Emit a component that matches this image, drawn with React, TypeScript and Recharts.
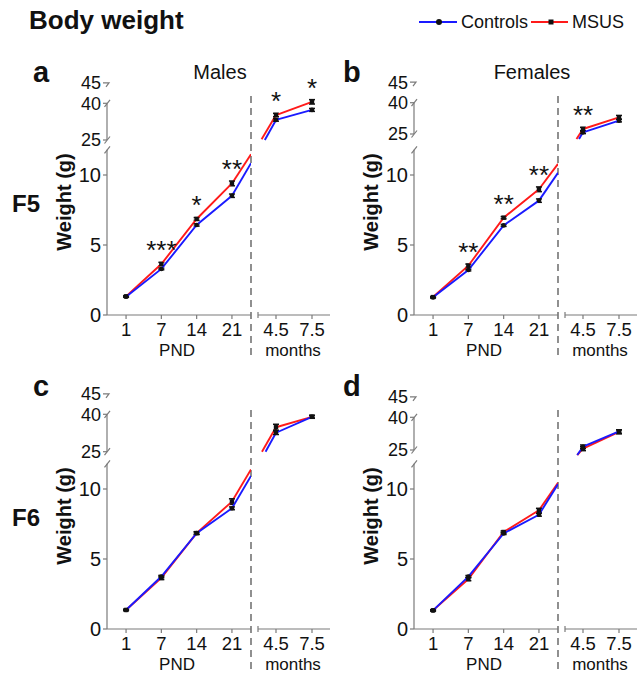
import React from "react";
import {
  LineChart,
  Line,
  XAxis,
  YAxis,
  ErrorBar,
  LabelList,
  ReferenceLine,
} from "recharts";

// ---- shared categories / ticks ----
const PND_DAYS = ["1", "7", "14", "21"];
const MONTH_LABELS = ["4.5", "7.5"];
const LOWER_TICKS = [0, 5, 10];
const UPPER_TICKS = [25, 40];
const TOP_TICK = "45";

// ---- a: F5 males ----
const aCtrlPnd = [1.31, 3.29, 6.43, 8.52];
const aMsusPnd = [1.33, 3.64, 6.86, 9.4];
const aCtrlPndErr = [0.04, 0.06, 0.08, 0.12];
const aMsusPndErr = [0.05, 0.12, 0.1, 0.17];
const aCut = [10.84, 11.48]; // ctrl, msus value where the line meets the axis break
const aCtrlMo = [33.2, 37.3];
const aMsusMo = [35.2, 40.6];
const aCtrlMoErr = [0.5, 0.6];
const aMsusMoErr = [0.7, 0.9];
const aCtrlEntry = [-0.31, 25.0];
const aMsusEntry = [-0.4, 25.3];
const aSigPnd = ["", "***", "*", "**"];
const aSigMo = ["*", "*"];

// ---- b: F5 females ----
const bCtrlPnd = [1.26, 3.21, 6.4, 8.17];
const bMsusPnd = [1.28, 3.52, 6.95, 8.98];
const bCtrlPndErr = [0.04, 0.06, 0.07, 0.12];
const bMsusPndErr = [0.05, 0.12, 0.08, 0.17];
const bCut = [10.16, 10.79];
const bCtrlMo = [25.8, 31.4];
const bMsusMo = [27.4, 33.0];
const bCtrlMoErr = [0.6, 0.6];
const bMsusMoErr = [0.8, 0.9];
const bCtrlEntry = [-0.11, 22.6];
const bMsusEntry = [-0.18, 22.6];
const bSigPnd = ["", "**", "**", "**"];
const bSigMo = ["**", ""];

// ---- c: F6 males ----
const cCtrlPnd = [1.36, 3.75, 6.85, 8.62];
const cMsusPnd = [1.36, 3.65, 6.85, 9.1];
const cCtrlPndErr = [0.04, 0.08, 0.08, 0.1];
const cMsusPndErr = [0.05, 0.12, 0.1, 0.2];
const cCut = [10.93, 11.4];
const cCtrlMo = [32.6, 39.0];
const cMsusMo = [34.8, 39.0];
const cCtrlMoErr = [0.7, 0.5];
const cMsusMoErr = [1.2, 0.6];
const cCtrlEntry = [-0.29, 25.0];
const cMsusEntry = [-0.39, 25.0];
const cSigPnd = ["", "", "", ""];
const cSigMo = ["", ""];

// ---- d: F6 females ----
const dCtrlPnd = [1.33, 3.74, 6.83, 8.16];
const dMsusPnd = [1.33, 3.57, 6.93, 8.48];
const dCtrlPndErr = [0.04, 0.08, 0.08, 0.1];
const dMsusPndErr = [0.05, 0.12, 0.08, 0.14];
const dCut = [10.35, 10.45];
const dCtrlMo = [26.5, 33.5];
const dMsusMo = [25.6, 33.3];
const dCtrlMoErr = [0.8, 0.8];
const dMsusMoErr = [0.9, 0.9];
const dCtrlEntry = [-0.16, 22.7];
const dMsusEntry = [-0.16, 22.7];
const dSigPnd = ["", "", "", ""];
const dSigMo = ["", ""];

// ---- look ----
const FONT = '"Liberation Sans", Arial, Helvetica, sans-serif';
const AXIS = "#7b7b7b";
const BLUE = "#1a1aff";
const RED = "#ff1a1a";
const INK = "#111";
const TICK_FS = 20;
const UTICK_FS = 18;
const XTICK_FS = 18.5;

// panel geometry (px, relative to panel origin)
const PW = 340;
const PH = 362;
const AX = 107; // y axis
const BRK = 251; // dashed break
const RX0 = 258;
const RX1 = 330;
const BASE = 315; // x axis
const PX_PER_G = 14;
const LOW_MAX = 11.8;
const LTOP = BASE - LOW_MAX * PX_PER_G;
const AXIS_H = 45;
const X_DOM: [number, number] = [-0.54, 3.54];
const M_DOM: [number, number] = [-0.5, 1.5];
const U_DOM: [number, number] = [22, 42];
const DASH_HI = (BASE - 92) / PX_PER_G;
const DASH_LO = (BASE - 355) / PX_PER_G;

type Cfg = {
  ox: number;
  oy: number;
  ctrlPnd: number[];
  msusPnd: number[];
  ctrlPndErr: number[];
  msusPndErr: number[];
  cut: number[];
  ctrlMo: number[];
  msusMo: number[];
  ctrlMoErr: number[];
  msusMoErr: number[];
  ctrlEntry: number[];
  msusEntry: number[];
  sigPnd: string[];
  sigMo: string[];
  y25: number;
  y40: number;
};

const PANELS: Cfg[] = [
  { ox: 0, oy: 0, ctrlPnd: aCtrlPnd, msusPnd: aMsusPnd, ctrlPndErr: aCtrlPndErr, msusPndErr: aMsusPndErr, cut: aCut, ctrlMo: aCtrlMo, msusMo: aMsusMo, ctrlMoErr: aCtrlMoErr, msusMoErr: aMsusMoErr, ctrlEntry: aCtrlEntry, msusEntry: aMsusEntry, sigPnd: aSigPnd, sigMo: aSigMo, y25: 140, y40: 103.3 },
  { ox: 307, oy: 0, ctrlPnd: bCtrlPnd, msusPnd: bMsusPnd, ctrlPndErr: bCtrlPndErr, msusPndErr: bMsusPndErr, cut: bCut, ctrlMo: bCtrlMo, msusMo: bMsusMo, ctrlMoErr: bCtrlMoErr, msusMoErr: bMsusMoErr, ctrlEntry: bCtrlEntry, msusEntry: bMsusEntry, sigPnd: bSigPnd, sigMo: bSigMo, y25: 134, y40: 102.7 },
  { ox: 0, oy: 314, ctrlPnd: cCtrlPnd, msusPnd: cMsusPnd, ctrlPndErr: cCtrlPndErr, msusPndErr: cMsusPndErr, cut: cCut, ctrlMo: cCtrlMo, msusMo: cMsusMo, ctrlMoErr: cCtrlMoErr, msusMoErr: cMsusMoErr, ctrlEntry: cCtrlEntry, msusEntry: cMsusEntry, sigPnd: cSigPnd, sigMo: cSigMo, y25: 137.7, y40: 100.3 },
  { ox: 307, oy: 314, ctrlPnd: dCtrlPnd, msusPnd: dMsusPnd, ctrlPndErr: dCtrlPndErr, msusPndErr: dMsusPndErr, cut: dCut, ctrlMo: dCtrlMo, msusMo: dMsusMo, ctrlMoErr: dCtrlMoErr, msusMoErr: dMsusMoErr, ctrlEntry: dCtrlEntry, msusEntry: dMsusEntry, sigPnd: dSigPnd, sigMo: dSigMo, y25: 136, y40: 103.3 },
];

// ---- small renderers ----
const YTick = (p: any) => (
  <text x={p.x} y={p.y} dy={p.fs * 0.35} textAnchor="end" fontSize={p.fs} fontFamily={FONT} fill={INK}>
    {p.payload.value}
  </text>
);

const XTick = (p: any) => (
  <text x={p.x} y={p.y} dy={15} textAnchor="middle" fontSize={XTICK_FS} fontFamily={FONT} fill={INK}>
    {p.labels[p.payload.value]}
  </text>
);

const Slash = ({ x, y }: { x: number; y: number }) => (
  <line x1={x - 2.5} y1={y + 3.5} x2={x + 3} y2={y - 3.5} stroke={AXIS} strokeWidth={1.2} />
);

const LowerYDeco = () => (
  <g>
    <Slash x={AX} y={LTOP} />
    <text
      transform={`translate(71, 202) rotate(-90)`}
      textAnchor="middle"
      fontSize={20}
      fontWeight="bold"
      fontFamily={FONT}
      fill={INK}
    >
      Weight (g)
    </text>
  </g>
);

const UpperYDeco = ({ y25, y40 }: any) => {
  const y45 = y40 - 20.5;
  return (
    <g>
      <Slash x={AX} y={y40} />
      <Slash x={AX} y={y25} />
      <polyline
        points={`${AX - 4},${y45} ${AX + 2},${y45} ${AX - 1},${y45 + 4}`}
        fill="none"
        stroke={AXIS}
        strokeWidth={1.2}
      />
      <text x={AX - 6} y={y45} dy={UTICK_FS * 0.35} textAnchor="end" fontSize={UTICK_FS} fontFamily={FONT} fill={INK}>
        {TOP_TICK}
      </text>
    </g>
  );
};

const XTitle = ({ text, cx }: any) => (
  <text x={cx} y={BASE + 40.5} textAnchor="middle" fontSize={17} fontFamily={FONT} fill={INK}>
    {text}
  </text>
);

const MonthsDeco = () => (
  <g>
    <line x1={RX0} y1={BASE - 3} x2={RX0} y2={BASE + 3} stroke={AXIS} strokeWidth={1.2} />
    <XTitle text="months" cx={(RX0 + RX1) / 2 - 1} />
  </g>
);

const SquareDot = (p: any) =>
  p.cx == null ? null : (
    <rect key={`s${p.index}`} x={p.cx - 2.2} y={p.cy - 2.2} width={4.4} height={4.4} fill={INK} />
  );

const CircleDot = (p: any) =>
  p.cx == null ? null : <circle key={`c${p.index}`} cx={p.cx} cy={p.cy} r={2.3} fill={INK} />;

const Stars = (p: any) => {
  if (!p.value) return null;
  const x = p.x ?? p.viewBox?.x;
  const y = p.y ?? p.viewBox?.y;
  return (
    <text x={x} y={y - 5} textAnchor="middle" fontSize={26} fontFamily={FONT} fill={INK}>
      {p.value}
    </text>
  );
};

const lineProps = { strokeWidth: 1.9, isAnimationActive: false, type: "linear" as const };
const errProps = { width: 3, stroke: INK, strokeWidth: 1.5, isAnimationActive: false };
const axisProps = { tickSize: 4, tickLine: { stroke: AXIS, strokeWidth: 1.2 }, axisLine: { stroke: AXIS, strokeWidth: 1.2 } };

function Panel({ c }: { c: Cfg }) {
  const pnd = PND_DAYS.map((_, i) => ({
    x: i,
    ctrl: c.ctrlPnd[i],
    msus: c.msusPnd[i],
    ctrlErr: c.ctrlPndErr[i],
    msusErr: c.msusPndErr[i],
    sig: c.sigPnd[i],
  }));
  const last = PND_DAYS.length - 1;
  const ctrlTail = [{ x: last, y: c.ctrlPnd[last] }, { x: X_DOM[1], y: c.cut[0] }];
  const msusTail = [{ x: last, y: c.msusPnd[last] }, { x: X_DOM[1], y: c.cut[1] }];

  const mo = MONTH_LABELS.map((_, i) => ({
    x: i,
    ctrl: c.ctrlMo[i],
    msus: c.msusMo[i],
    ctrlErr: c.ctrlMoErr[i],
    msusErr: c.msusMoErr[i],
    sig: c.sigMo[i],
  }));
  const ctrlHead = [{ x: c.ctrlEntry[0], y: c.ctrlEntry[1] }, { x: 0, y: c.ctrlMo[0] }];
  const msusHead = [{ x: c.msusEntry[0], y: c.msusEntry[1] }, { x: 0, y: c.msusMo[0] }];

  const ppg = (c.y25 - c.y40) / 15;
  const uTop = c.y40 - (U_DOM[1] - 40) * ppg;
  const uBot = c.y25 + (25 - U_DOM[0]) * ppg;

  const layer: React.CSSProperties = { position: "absolute", left: 0, top: 0 };

  return (
    <div style={{ position: "absolute", left: c.ox, top: c.oy, width: PW, height: PH }}>
      {/* upper y axis segment 25–40 */}
      <div style={layer}>
        <LineChart width={PW} height={PH} data={mo} margin={{ top: c.y40, bottom: PH - c.y25, left: 0, right: PW - BRK }}>
          <XAxis type="number" dataKey="x" domain={M_DOM} allowDataOverflow hide />
          <YAxis
            type="number"
            domain={[25, 40]}
            ticks={UPPER_TICKS}
            allowDataOverflow
            interval={0}
            width={AX}
            {...axisProps}
            tick={<YTick fs={UTICK_FS} />}
            label={<UpperYDeco y25={c.y25} y40={c.y40} />}
          />
        </LineChart>
      </div>

      {/* months x axis */}
      <div style={layer}>
        <LineChart width={PW} height={PH} data={mo} margin={{ top: LTOP, bottom: PH - BASE - AXIS_H, left: RX0, right: PW - RX1 }}>
          <XAxis
            type="number"
            dataKey="x"
            domain={M_DOM}
            ticks={[0, 1]}
            allowDataOverflow
            interval={0}
            height={AXIS_H}
            {...axisProps}
            tick={<XTick labels={MONTH_LABELS} />}
            label={<MonthsDeco />}
          />
          <YAxis type="number" domain={[0, LOW_MAX]} allowDataOverflow hide />
        </LineChart>
      </div>

      {/* PND, lower segment */}
      <div style={layer}>
        <LineChart width={PW} height={PH} data={pnd} margin={{ top: LTOP, bottom: PH - BASE - AXIS_H, left: 0, right: PW - BRK }}>
          <XAxis
            type="number"
            dataKey="x"
            domain={X_DOM}
            ticks={[0, 1, 2, 3]}
            allowDataOverflow
            interval={0}
            height={AXIS_H}
            {...axisProps}
            tick={<XTick labels={PND_DAYS} />}
            label={<XTitle text="PND" cx={(AX + BRK) / 2 - 2} />}
          />
          <YAxis
            type="number"
            domain={[0, LOW_MAX]}
            ticks={LOWER_TICKS}
            allowDataOverflow
            interval={0}
            width={AX}
            {...axisProps}
            tick={<YTick fs={TICK_FS} />}
            label={<LowerYDeco />}
          />
          <ReferenceLine
            segment={[
              { x: X_DOM[1], y: DASH_LO },
              { x: X_DOM[1], y: DASH_HI },
            ]}
            ifOverflow="visible"
            stroke="#555"
            strokeWidth={1.3}
            strokeDasharray="7 5"
          />
          <Line data={msusTail} dataKey="y" stroke={RED} dot={false} {...lineProps} />
          <Line dataKey="msus" stroke={RED} dot={<SquareDot />} {...lineProps}>
            <ErrorBar dataKey="msusErr" direction="y" {...errProps} />
            <LabelList dataKey="sig" content={<Stars />} />
          </Line>
          <Line data={ctrlTail} dataKey="y" stroke={BLUE} dot={false} {...lineProps} />
          <Line dataKey="ctrl" stroke={BLUE} dot={<CircleDot />} {...lineProps}>
            <ErrorBar dataKey="ctrlErr" direction="y" {...errProps} />
          </Line>
        </LineChart>
      </div>

      {/* months, upper segment */}
      <div style={layer}>
        <LineChart width={PW} height={PH} data={mo} margin={{ top: uTop, bottom: PH - uBot, left: RX0, right: PW - RX1 }}>
          <XAxis type="number" dataKey="x" domain={M_DOM} allowDataOverflow hide />
          <YAxis type="number" domain={U_DOM} allowDataOverflow hide />
          <Line data={msusHead} dataKey="y" stroke={RED} dot={false} {...lineProps} />
          <Line dataKey="msus" stroke={RED} dot={<SquareDot />} {...lineProps}>
            <ErrorBar dataKey="msusErr" direction="y" {...errProps} />
            <LabelList dataKey="sig" content={<Stars />} />
          </Line>
          <Line data={ctrlHead} dataKey="y" stroke={BLUE} dot={false} {...lineProps} />
          <Line dataKey="ctrl" stroke={BLUE} dot={<CircleDot />} {...lineProps}>
            <ErrorBar dataKey="ctrlErr" direction="y" {...errProps} />
          </Line>
        </LineChart>
      </div>
    </div>
  );
}

export default function App() {
  const txt = { fontFamily: FONT, fill: INK };
  return (
    <div style={{ position: "absolute", left: 0, top: 0, width: 644, height: 674, background: "#fff", overflow: "hidden" }}>
      {PANELS.map((c, i) => (
        <Panel key={i} c={c} />
      ))}
      <svg width={644} height={674} style={{ position: "absolute", left: 0, top: 0, pointerEvents: "none" }}>
        <text x={29} y={29} fontSize={26} fontWeight="bold" {...txt}>Body weight</text>

        {/* legend */}
        <line x1={419} y1={22} x2={457} y2={22} stroke={BLUE} strokeWidth={2} />
        <circle cx={439} cy={22} r={3} fill={INK} />
        <text x={461} y={28} fontSize={18} {...txt}>Controls</text>
        <line x1={531} y1={22} x2={568} y2={22} stroke={RED} strokeWidth={2} />
        <rect x={548.5} y={19.5} width={5} height={5} fill={INK} />
        <text x={572} y={28} fontSize={18} {...txt}>MSUS</text>

        {/* panel letters */}
        <text x={33} y={82} fontSize={29} fontWeight="bold" {...txt}>a</text>
        <text x={343} y={82} fontSize={29} fontWeight="bold" {...txt}>b</text>
        <text x={33} y={396} fontSize={29} fontWeight="bold" {...txt}>c</text>
        <text x={343} y={396} fontSize={29} fontWeight="bold" {...txt}>d</text>

        {/* column / row titles */}
        <text x={220} y={79} fontSize={20} textAnchor="middle" {...txt}>Males</text>
        <text x={532} y={79} fontSize={20} textAnchor="middle" {...txt}>Females</text>
        <text x={12} y={212} fontSize={24} fontWeight="bold" {...txt}>F5</text>
        <text x={12} y={526} fontSize={24} fontWeight="bold" {...txt}>F6</text>
      </svg>
    </div>
  );
}
